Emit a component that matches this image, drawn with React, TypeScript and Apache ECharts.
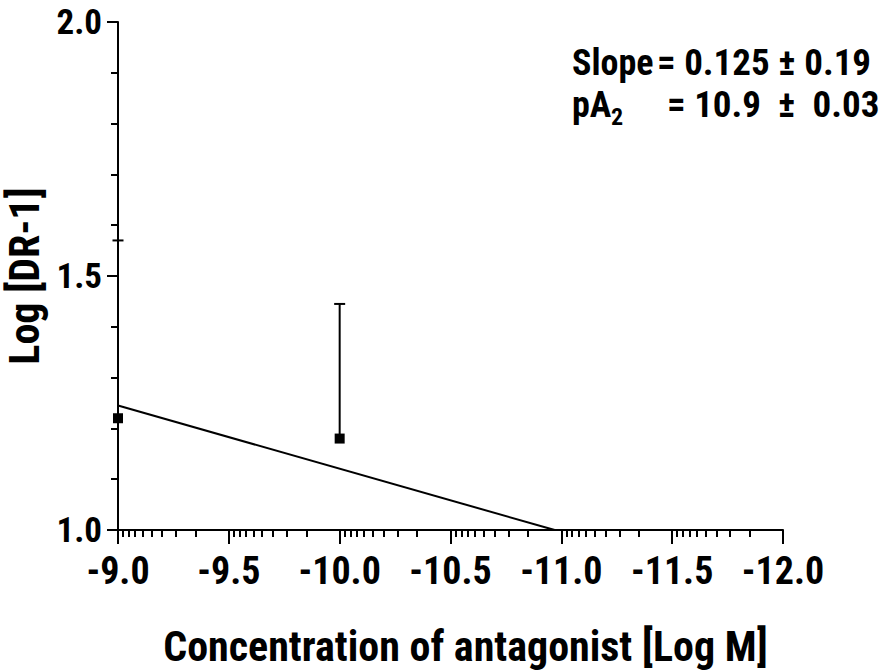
import React, { useEffect, useRef } from "react";
import * as echarts from "echarts";

// ---- data ----
const concentrations = [-9.0, -10.0]; // Log M
const logDR1Means = [1.22, 1.18];
const logDR1Upper = [1.57, 1.445]; // top of error bars
const fitLine = [
  [-9.0, 1.245],
  [-10.97, 1.0],
];
const xMajorTicks = [-9.0, -9.5, -10.0, -10.5, -11.0, -11.5, -12.0];
const xMinorOffsets = [0.0229, 0.0485, 0.0775, 0.1109, 0.1505, 0.199, 0.2614, 0.3495];
const yTickLabels = ["1.0", "1.5", "2.0"];
const annotationLine1 = ["Slope", "= 0.125 \u00B1 0.19"];
const annotationLine2 = ["pA", "2", "= 10.9  \u00B1  0.03"];

const FONT = "'Roboto Condensed', 'Open Sans Condensed', 'Liberation Sans', sans-serif";

export default function App() {
  const ref = useRef<HTMLDivElement>(null);

  useEffect(() => {
    if (!ref.current) return;
    const chart = echarts.init(ref.current, null, { renderer: "svg" });

    const minorTicks: number[] = [];
    xMajorTicks.slice(0, -1).forEach((m) => {
      xMinorOffsets.forEach((o) => minorTicks.push(m - o));
    });

    const errData = concentrations.map((x, i) => [x, logDR1Means[i], logDR1Upper[i]]);
    const ptData = concentrations.map((x, i) => [x, logDR1Means[i]]);

    const txt = (text: string, left: number, top: number, size: number) => ({
      type: "text",
      left,
      top,
      style: { text, fontFamily: FONT, fontWeight: "bold", fontSize: size, fill: "#000" },
    });

    const option: any = {
      animation: false,
      backgroundColor: "#ffffff",
      grid: { left: 118, right: 97, top: 22, bottom: 142, containLabel: false, outerBoundsMode: "none" },
      xAxis: [
        {
          type: "value",
          min: -12,
          max: -9,
          interval: 0.5,
          inverse: true,
          position: "bottom",
          name: "Concentration of antagonist [Log M]",
          nameLocation: "middle",
          nameGap: 95,
          nameTextStyle: {
            fontFamily: FONT,
            fontWeight: "bold",
            fontSize: 42,
            color: "#000",
            padding: [0, 0, 0, 30],
          },
          axisLine: { onZero: false, lineStyle: { color: "#000", width: 2 } },
          axisTick: { show: true, length: 14, lineStyle: { color: "#000", width: 2 } },
          axisLabel: {
            color: "#000",
            fontFamily: FONT,
            fontWeight: "bold",
            fontSize: 38,
            margin: 22,
            formatter: (v: number) => v.toFixed(1),
          },
          splitLine: { show: false },
        },
        {
          type: "value",
          min: -12,
          max: -9,
          inverse: true,
          position: "bottom",
          axisLine: { show: false, onZero: false },
          axisLabel: { show: false },
          splitLine: { show: false },
          axisTick: {
            show: true,
            length: 7,
            customValues: minorTicks,
            lineStyle: { color: "#000", width: 2 },
          },
        },
      ],
      yAxis: {
        type: "value",
        min: 1,
        max: 2,
        interval: 0.5,
        name: "Log [DR-1]",
        nameLocation: "middle",
        nameGap: 64,
        nameRotate: 90,
        nameTextStyle: { fontFamily: FONT, fontWeight: "bold", fontSize: 42, color: "#000" },
        axisLine: { show: true, lineStyle: { color: "#000", width: 2 } },
        axisTick: { show: true, length: 11, lineStyle: { color: "#000", width: 2 } },
        minorTick: { show: true, splitNumber: 5, length: 7, lineStyle: { color: "#000", width: 2 } },
        axisLabel: {
          color: "#000",
          fontFamily: FONT,
          fontWeight: "bold",
          fontSize: 35,
          margin: 16,
          formatter: (v: number) => yTickLabels[Math.round((v - 1) / 0.5)] ?? v.toFixed(1),
        },
        splitLine: { show: false },
      },
      series: [
        {
          type: "line",
          data: fitLine,
          showSymbol: false,
          symbol: "none",
          lineStyle: { color: "#000", width: 2 },
          z: 2,
        },
        {
          type: "custom",
          data: errData,
          encode: { x: 0, y: [1, 2] },
          renderItem: (params: any, api: any) => {
            const x = api.value(0);
            const lo = api.coord([x, api.value(1)]);
            const hi = api.coord([x, api.value(2)]);
            const half = 5.5;
            const style = { stroke: "#000", lineWidth: 2 };
            return {
              type: "group",
              children: [
                { type: "line", shape: { x1: lo[0], y1: lo[1], x2: hi[0], y2: hi[1] }, style },
                { type: "line", shape: { x1: hi[0] - half, y1: hi[1], x2: hi[0] + half, y2: hi[1] }, style },
              ],
            };
          },
          z: 3,
        },
        {
          type: "scatter",
          data: ptData,
          symbol: "rect",
          symbolSize: 10,
          itemStyle: { color: "#000", opacity: 1 },
          z: 4,
        },
      ],
      graphic: [
        txt(annotationLine1[0], 572, 45, 36),
        txt(annotationLine1[1], 657, 44, 37),
        txt(annotationLine2[0], 572, 87, 36),
        txt(annotationLine2[1], 611, 105, 24),
        txt(annotationLine2[2], 667, 86, 37),
      ],
    };

    chart.setOption(option);
    return () => chart.dispose();
  }, []);

  return (
    <div
      ref={ref}
      style={{ position: "fixed", left: 0, top: 0, width: 880, height: 672, background: "#fff" }}
    />
  );
}
